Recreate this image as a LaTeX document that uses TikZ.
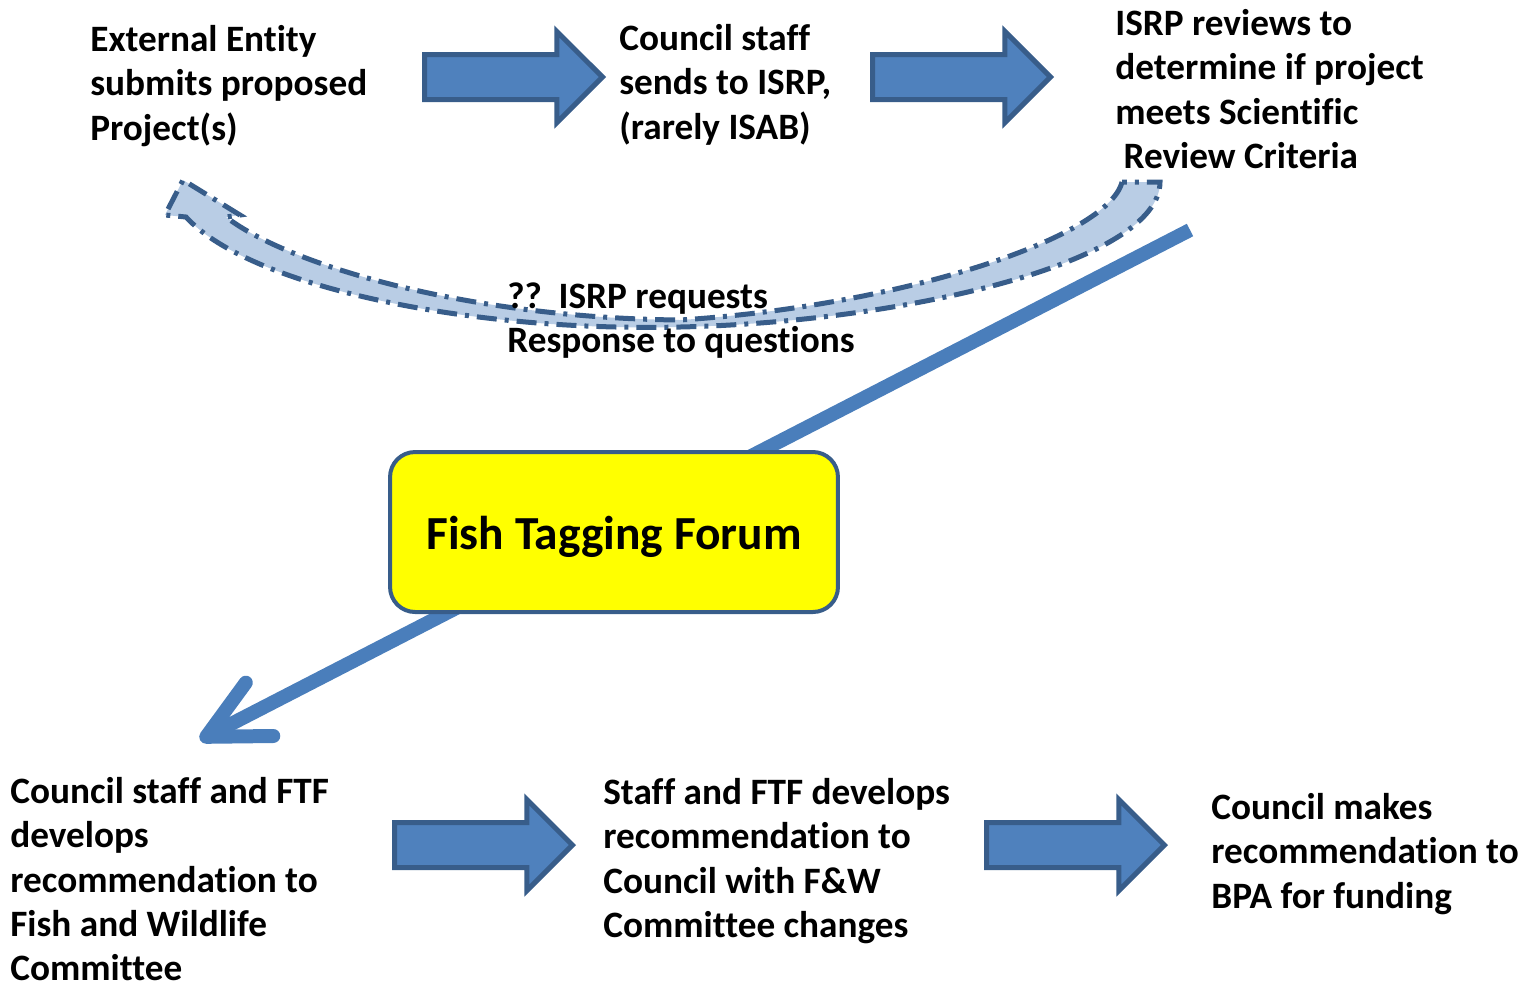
\documentclass[tikz,border=0pt]{standalone}
\usepackage{fontspec}
\setmainfont{Carlito}[Ligatures=NoCommon]
\usepackage{tikz}
\usetikzlibrary{shapes.arrows,arrows.meta,calc}
\definecolor{boxblue}{HTML}{4F81BD}
\definecolor{edgeblue}{HTML}{385D8A}
\definecolor{paleblue}{HTML}{B9CDE5}
\definecolor{lineblue}{HTML}{4A7EBB}
\definecolor{forumyellow}{HTML}{FFFF00}
\tikzset{
	txt/.style={align=left, inner sep=0pt, anchor=north west, font=\bfseries\fontsize{21.2}{25.2}\selectfont},
	fatarrow/.style={single arrow, anchor=tail, fill=boxblue, draw=edgeblue, line width=0.1cm,
		minimum height=3.56cm, inner xsep=0pt, inner ysep=0.4cm,
		single arrow head extend=0.46cm},
	forum/.style={rectangle, rounded corners=0.5cm, fill=forumyellow, draw=edgeblue, line width=0.08cm,
		minimum width=8.96cm, minimum height=3.2cm, text height=0.87cm, text depth=0.19cm,
		font=\bfseries\fontsize{27}{30}\selectfont},
	band/.style={fill=paleblue, draw=edgeblue, line width=0.1cm,
		dash pattern=on 0.4cm off 0.16cm on 0.08cm off 0.16cm},
	bigline/.style={draw=lineblue, line width=0.28cm, -{Straight Barb[length=1.2cm, width=1.2cm, round]}}
}
\begin{document}
\begin{tikzpicture}[x=0.02cm, y=-0.02cm]
	\useasboundingbox (0,0) rectangle (1527,985);
	% curved request band
	\draw[band] (1122,182) .. controls (1108,238) and (900,306) .. (680,320)
		.. controls (470,318) and (290,266) .. (226,217)
		-- (240,215) -- (183,180) -- (165,215) -- (186,217)
		.. controls (250,287) and (470,332) .. (680,327)
		.. controls (905,322) and (1160,262) .. (1160,182) -- cycle;
	% texts
	\node[txt] (ext) at (90,25) {External Entity\\submits proposed\\Project(s)};
	\node[txt] (staff) at (619,24) {Council staff\\sends to ISRP,\\(rarely ISAB)};
	\node[txt] (isrp) at (1115,9) {ISRP reviews to\\determine if project\\meets Scientific\\\hspace{0.22em}Review Criteria};
	\node[txt] (query) at (507,282) {??\ \ ISRP requests\\Response to questions};
	\node[txt] (dev) at (10,777) {Council staff and FTF\\develops\\recommendation to\\Fish and Wildlife\\Committee};
	\node[txt] (chg) at (603,778) {Staff and FTF develops\\recommendation to\\Council with F\&W\\Committee changes};
	\node[txt] (fund) at (1211,793) {Council makes\\recommendation to\\BPA for funding};
	% long arrow behind the forum box
	\coordinate (from) at (1190,230);
	\coordinate (to) at (200,740);
	\draw[bigline] (from) -- (to);
	\node[forum] (ftf) at (614,532) {Fish Tagging Forum};
	% block arrows
	\node[fatarrow] (a1) at (422,77) {};
	\node[fatarrow] (a2) at (870,77) {};
	\node[fatarrow] (a3) at (392,845) {};
	\node[fatarrow] (a4) at (984,845) {};
\end{tikzpicture}
\end{document}
